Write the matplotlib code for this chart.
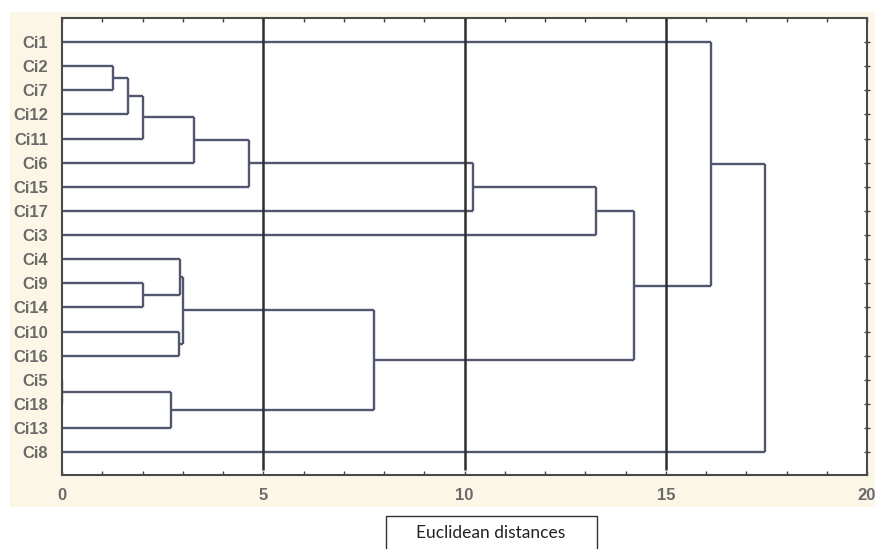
import matplotlib.pyplot as plt
from matplotlib.patches import Rectangle

# leaf order from top to bottom
leaves = ["Ci1", "Ci2", "Ci7", "Ci12", "Ci11", "Ci6", "Ci15", "Ci17", "Ci3",
          "Ci4", "Ci9", "Ci14", "Ci10", "Ci16", "Ci5", "Ci18", "Ci13", "Ci8"]

# linkage: (left, right, distance); ints refer to earlier merges
merges = [
    ("Ci2", "Ci7", 1.27),    # 0
    (0, "Ci12", 1.64),       # 1
    (1, "Ci11", 2.01),       # 2
    (2, "Ci6", 3.28),        # 3
    (3, "Ci15", 4.65),       # 4
    (4, "Ci17", 10.22),      # 5
    (5, "Ci3", 13.26),       # 6
    ("Ci9", "Ci14", 2.01),   # 7
    ("Ci4", 7, 2.94),        # 8
    ("Ci10", "Ci16", 2.91),  # 9
    (8, 9, 3.01),            # 10
    ("Ci5", "Ci18", 0.0),    # 11
    (11, "Ci13", 2.71),      # 12
    (10, 12, 7.74),          # 13
    (6, 13, 14.20),          # 14
    ("Ci1", 14, 16.12),      # 15
    (15, "Ci8", 17.46),      # 16
]

x_ticks = [0, 5, 10, 15, 20]
ref_lines = [5, 10, 15]
x_label = "Euclidean distances"

line_col = "#52566f"
text_col = "#6a6a6a"

fig = plt.figure(figsize=(8.75, 5.49), dpi=100)
W, H = 875, 549

# cream panel behind the plot
fig.patches.append(Rectangle((10 / W, 1 - 507 / H), 865 / W, 495 / H,
                             transform=fig.transFigure, fc="#fbf6e6",
                             ec="none", zorder=-10))

ax = fig.add_axes([62 / W, 1 - 475 / H, 805 / W, 457 / H])
ax.set_facecolor("white")

pos = {}
for i, name in enumerate(leaves):
    pos[name] = (i, 0.0)

for k, (a, b, d) in enumerate(merges):
    ya, xa = pos[a]
    yb, xb = pos[b]
    ax.plot([xa, d], [ya, ya], color=line_col, lw=1.7, solid_capstyle="butt")
    ax.plot([xb, d], [yb, yb], color=line_col, lw=1.7, solid_capstyle="butt")
    ax.plot([d, d], [ya, yb], color=line_col, lw=1.7, solid_capstyle="butt")
    pos[k] = ((ya + yb) / 2, d)

ax.vlines(ref_lines, -1.0, 17.75, color="#2e2e2e", lw=1.8, zorder=3)

ax.set_xlim(0, 20)
ax.set_ylim(17.95, -1.0)

ax.set_xticks(x_ticks)
ax.set_xticks(range(0, 21), minor=True)
ax.set_yticks(range(len(leaves)))
ax.set_yticklabels(leaves)

ax.tick_params(axis="x", which="both", direction="in", top=True, bottom=True,
               length=3, width=1, color="#444444", labelsize=12,
               labelcolor=text_col, pad=9)
ax.tick_params(axis="y", left=False, right=True, direction="inout", length=4,
               width=1, color="#444444", labelsize=12, labelcolor=text_col,
               pad=8)
for lab in ax.get_xticklabels() + ax.get_yticklabels():
    lab.set_family(["Liberation Sans", "DejaVu Sans"])
    lab.set_fontweight("bold")

for sp in ax.spines.values():
    sp.set_color("#4a4a4a")
    sp.set_linewidth(1.5)

# boxed axis caption under the chart
fig.patches.append(Rectangle((386 / W, 1 - 553 / H), 211 / W, 37 / H,
                             transform=fig.transFigure, fc="white",
                             ec="#333333", lw=1.0))
fig.text(491 / W, 1 - 533 / H, x_label, ha="center", va="center",
         fontsize=12.5, family=["Lato", "DejaVu Sans"], color="#222222")

fig.savefig("out.png", dpi=100)
